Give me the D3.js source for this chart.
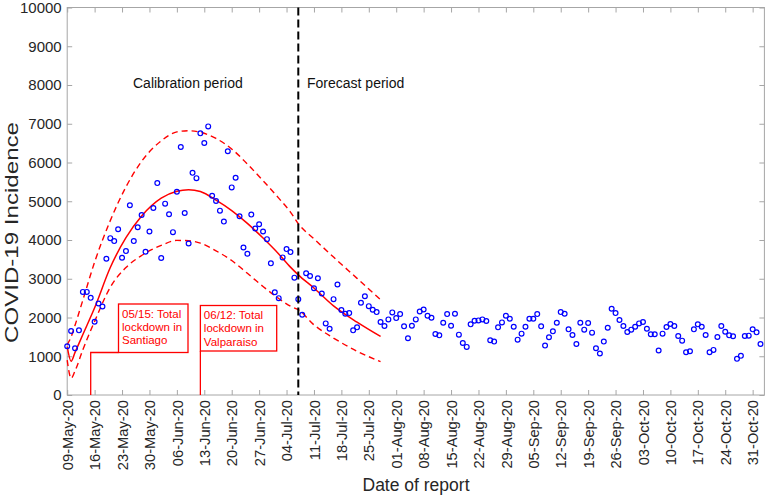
<!DOCTYPE html>
<html><head><meta charset="utf-8">
<script src="https://cdn.jsdelivr.net/npm/d3@7"></script>
<style>
body{margin:0;background:#fff}
text{font-family:"Liberation Sans",Arial,Helvetica,sans-serif}
</style>
</head><body><svg id="c" width="766" height="497"></svg>
<script>
const startDate = "2020-05-09";
const totalDays = 178;
const incidence = [1258,1652,1207,1669,2661,2661,2507,1891,2362,2285,
3517,4048,3971,4279,3543,3714,4895,3971,4330,4647,
3697,4219,4826,5468,3534,4938,4664,4202,5246,6401,
4698,3911,5733,5596,6752,6504,6931,5143,5006,4758,
4475,6290,5357,5605,4612,3808,3645,4655,4296,4407,
4219,4022,3397,2653,2499,3551,3765,3688,3029,2473,
2071,3141,3072,2755,3012,2619,1848,1711,2473,2850,
2191,2097,2114,1669,1746,2379,2550,2293,2199,2139,
1883,1780,1951,2131,1985,2088,1771,1463,1788,1951,
2156,2208,2045,1994,1575,1540,1865,2088,1788,2097,
1557,1343,1241,1823,1917,1925,1951,1908,1412,1378,
1746,1874,2045,1968,1763,1429,1583,1763,1968,1968,
2088,1771,1275,1489,1643,1865,2139,2097,1694,1549,
1318,1865,1686,1857,1609,1207,1070,1378,1737,2225,
2114,1934,1780,1626,1686,1763,1848,1883,1711,1566,
1566,1147,1583,1754,1831,1780,1523,1403,1104,1130,
1694,1823,1763,1549,1104,1164,1497,1780,1634,1540,
1515,933,1010,1523,1532,1694,1617,1318];
const fitDays    = [0,1,2,4,7,11,15,19,24,28,31,34,38,42,46,50,54,57,59,63,68,74,80];
const fitValues  = [1250,870,1100,1560,2250,3290,4060,4620,5080,5260,5300,5250,5030,4760,4430,4050,3640,3300,3100,2760,2300,1880,1510];
const upperValues= [1300,1500,1800,2450,3430,4500,5370,6030,6560,6790,6820,6780,6620,6350,5960,5530,5080,4720,4420,4030,3560,3010,2460];
const lowerValues= [900,430,620,1170,1900,2780,3290,3600,3860,3990,3980,3920,3720,3470,3140,2800,2490,2290,2200,1810,1470,1130,860];
const yTickValues = [0,1000,2000,3000,4000,5000,6000,7000,8000,9000,10000];
const xTickStepDays = 7;
const forecastStartDay = 59;
const periodLabels = ["Calibration period","Forecast period"];
const lockdownDays = [6, 34];
const lockdownTexts = [["05/15: Total","lockdown in","Santiago"],["06/12: Total","lockdown in","Valparaiso"]];
const axisTitles = {x:"Date of report", y:"COVID-19 Incidence"};

const svg = d3.select("#c");
const L = 67.2, R = 764.4, T = 7.5, B = 395;
const t0 = d3.timeParse("%Y-%m-%d")(startDate);
const day = d => d3.timeDay.offset(t0, d);
const x = d3.scaleTime().domain([t0, day(totalDays)]).range([L, R]);
const y = d3.scaleLinear().domain([0, 10000]).range([B, T]);
const axisCol = "#a6a6a6", txtCol = "#262626";
const FF = '"Liberation Sans",Arial,sans-serif';

svg.append("rect").attr("x", L).attr("y", T).attr("width", R - L).attr("height", B - T)
  .attr("fill", "none").attr("stroke", axisCol).attr("stroke-width", 1);

const xTicks = d3.range(0, 176, xTickStepDays).map(day);
const fmt = d3.timeFormat("%d-%b-%y");

const gx = svg.append("g").attr("transform", `translate(0,${B})`)
  .call(d3.axisBottom(x).tickValues(xTicks).tickFormat(fmt).tickSizeInner(-5).tickSizeOuter(0));
gx.select(".domain").remove();
gx.selectAll("line").attr("stroke", axisCol);
gx.selectAll("text").attr("transform", "rotate(-90)").attr("text-anchor", "end")
  .attr("x", -5).attr("y", 0).attr("dy", "0.35em").attr("fill", txtCol).style("font-size", "14.7px")
  .style("font-family", FF);
const gxt = svg.append("g").attr("transform", `translate(0,${T})`)
  .call(d3.axisTop(x).tickValues(xTicks).tickFormat("").tickSizeInner(-5).tickSizeOuter(0));
gxt.select(".domain").remove();
gxt.selectAll("line").attr("stroke", axisCol);

const gy = svg.append("g").attr("transform", `translate(${L},0)`)
  .call(d3.axisLeft(y).tickValues(yTickValues).tickFormat(d3.format("d")).tickSizeInner(-5).tickSizeOuter(0).tickPadding(5.5));
gy.select(".domain").remove();
gy.selectAll("line").attr("stroke", axisCol);
gy.selectAll("text").attr("fill", txtCol).style("font-size", "15px").style("font-family", FF);
const gyr = svg.append("g").attr("transform", `translate(${R},0)`)
  .call(d3.axisRight(y).tickValues(yTickValues).tickFormat("").tickSizeInner(-5).tickSizeOuter(0));
gyr.select(".domain").remove();
gyr.selectAll("line").attr("stroke", axisCol);

svg.append("text").attr("x", 416).attr("y", 491).attr("text-anchor", "middle")
  .attr("fill", txtCol).style("font-size", "17.5px").text(axisTitles.x);
svg.append("text").attr("transform", "translate(17.5,232.5) rotate(-90)").attr("text-anchor", "middle")
  .attr("fill", txtCol).style("font-size", "18.5px")
  .attr("textLength", 221).attr("lengthAdjust", "spacingAndGlyphs").text(axisTitles.y);

const fitPts = vals => fitDays.map((d, i) => [day(d), vals[i]]);
const line = d3.line().x(d => x(d[0])).y(d => y(d[1])).curve(d3.curveMonotoneX);
svg.append("path").attr("d", line(fitPts(upperValues))).attr("fill", "none")
  .attr("stroke", "#ff0000").attr("stroke-width", 1.4).attr("stroke-dasharray", "6,4");
svg.append("path").attr("d", line(fitPts(lowerValues))).attr("fill", "none")
  .attr("stroke", "#ff0000").attr("stroke-width", 1.4).attr("stroke-dasharray", "6,4");
svg.append("path").attr("d", line(fitPts(fitValues))).attr("fill", "none")
  .attr("stroke", "#ff0000").attr("stroke-width", 1.5);

svg.append("g").selectAll("circle").data(incidence).join("circle")
  .attr("cx", (v, i) => x(day(i))).attr("cy", v => y(v)).attr("r", 2.4)
  .attr("fill", "none").attr("stroke", "#0000ff").attr("stroke-width", 1.2);

svg.append("line").attr("x1", x(day(forecastStartDay))).attr("x2", x(day(forecastStartDay)))
  .attr("y1", T).attr("y2", B).attr("stroke", "#000").attr("stroke-width", 2).attr("stroke-dasharray", "8,4");

svg.append("text").attr("x", 133).attr("y", 88).attr("fill", "#111").style("font-size", "14px").text(periodLabels[0]);
svg.append("text").attr("x", 307).attr("y", 88).attr("fill", "#111").style("font-size", "14px").text(periodLabels[1]);

const boxes = [{x0:118.5, x1:188, y0:304, y1:352.5}, {x0:null, x1:276.7, y0:305.5, y1:351}];
lockdownDays.forEach((d, i) => {
  const xd = x(day(d));
  const b = boxes[i];
  const bx0 = b.x0 === null ? xd : b.x0;
  svg.append("rect").attr("x", bx0).attr("y", b.y0).attr("width", b.x1 - bx0).attr("height", b.y1 - b.y0)
    .attr("fill", "#fff").attr("stroke", "#ff0000").attr("stroke-width", 1.3);
  svg.append("path").attr("d", `M${xd},${B} V${b.y1} H${bx0}`).attr("fill", "none")
    .attr("stroke", "#ff0000").attr("stroke-width", 1.3);
  const tx = svg.append("text").attr("x", bx0 + 3.5).attr("y", b.y0 + 13.5)
    .attr("fill", "#ff0000").style("font-size", "11.5px");
  lockdownTexts[i].forEach((s, j) => tx.append("tspan").attr("x", bx0 + 3.5).attr("dy", j ? 13.4 : 0).text(s));
});
</script></body></html>
